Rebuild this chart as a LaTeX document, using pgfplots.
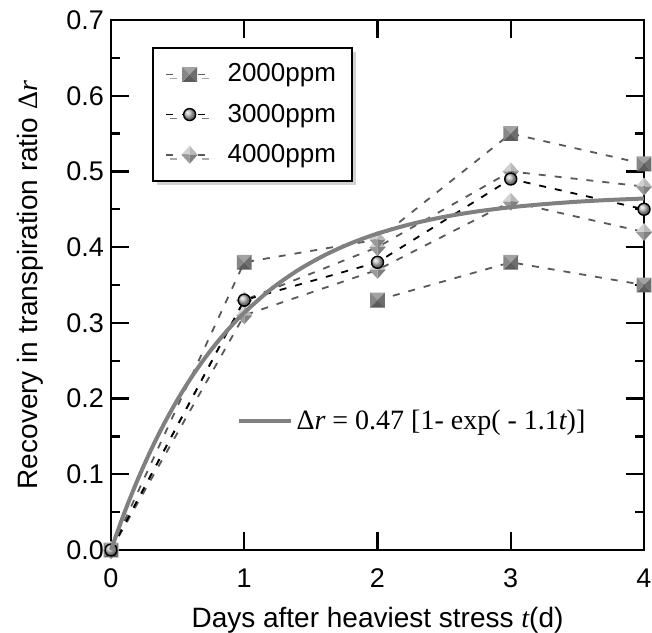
\documentclass[border=0pt]{standalone}
\usepackage{fontspec}
\setmainfont{Liberation Sans}
\newfontfamily\serifrm{Liberation Serif}
\usepackage{pgfplots}
\pgfplotsset{compat=1.18}
\usetikzlibrary{shadows}

\definecolor{sqT}{gray}{0.64}
\definecolor{sqL}{gray}{0.53}
\definecolor{sqR}{gray}{0.43}
\definecolor{sqB}{gray}{0.36}
\definecolor{dmTL}{gray}{0.82}
\definecolor{dmTR}{gray}{0.72}
\definecolor{dmBR}{gray}{0.50}
\definecolor{dmBL}{gray}{0.60}
\definecolor{dashgray}{gray}{0.35}
\definecolor{fitgray}{gray}{0.5}
\makeatletter
\colorlet{tikz@ball}{gray!55}
\makeatother

% one face of a pyramid-shaded mark
\newcommand\pyrtri[5]{%
  \pgfpathmoveto{\pgfqpoint{#1}{#2}}%
  \pgfpathlineto{\pgfqpoint{#3}{#4}}%
  \pgfpathlineto{\pgfpointorigin}\pgfpathclose
  \pgfsetfillcolor{#5}\pgfusepathqfill}

\pgfdeclareplotmark{pyrsq}{%
  \pyrtri{-\pgfplotmarksize}{\pgfplotmarksize}{\pgfplotmarksize}{\pgfplotmarksize}{sqT}%
  \pyrtri{\pgfplotmarksize}{\pgfplotmarksize}{\pgfplotmarksize}{-\pgfplotmarksize}{sqR}%
  \pyrtri{\pgfplotmarksize}{-\pgfplotmarksize}{-\pgfplotmarksize}{-\pgfplotmarksize}{sqB}%
  \pyrtri{-\pgfplotmarksize}{-\pgfplotmarksize}{-\pgfplotmarksize}{\pgfplotmarksize}{sqL}}

\pgfdeclareplotmark{pyrdm}{%
  \pyrtri{-0.9\pgfplotmarksize}{0pt}{0pt}{\pgfplotmarksize}{dmTL}%
  \pyrtri{0pt}{\pgfplotmarksize}{0.9\pgfplotmarksize}{0pt}{dmTR}%
  \pyrtri{0.9\pgfplotmarksize}{0pt}{0pt}{-\pgfplotmarksize}{dmBR}%
  \pyrtri{0pt}{-\pgfplotmarksize}{-0.9\pgfplotmarksize}{0pt}{dmBL}}

\pgfdeclareplotmark{sball}{%
  \pgfpathcircle{\pgfpointorigin}{\pgfplotmarksize}%
  \pgfshadepath{ball}{0}%
  \pgfpathcircle{\pgfpointorigin}{\pgfplotmarksize}%
  \pgfsetlinewidth{0.7pt}\pgfsetstrokecolor{black}%
  \pgfusepathqstroke}

\newcommand\tickfont{\fontsize{13.5}{16}\selectfont}
\newcommand\labelfont{\fontsize{14}{17}\selectfont}
\newcommand\legfont{\fontsize{13}{15}\selectfont}

\pgfplotsset{
  s2000/.style={draw=dashgray, line width=0.9pt, dash pattern=on 3.5pt off 4.5pt,
    mark=pyrsq, mark size=3.7pt, mark options={solid}},
  s3000/.style={draw=black, line width=0.9pt, dash pattern=on 3.5pt off 4.5pt,
    mark=sball, mark size=3pt, mark options={solid}},
  s4000/.style={draw=dashgray, line width=0.9pt, dash pattern=on 3.5pt off 4.5pt,
    mark=pyrdm, mark size=4.5pt, mark options={solid}},
}

\begin{document}
\begin{tikzpicture}
\begin{axis}[
    scale only axis,
    width=266.5pt, height=265pt,
    xmin=0, xmax=4, ymin=0, ymax=0.7,
    xtick={0,1,2,3,4},
    ytick={0,0.1,...,0.7},
    minor y tick num=1,
    axis line style={line width=1.2pt},
    tick style={line width=1.1pt, black},
    major tick length=9pt,
    minor tick length=4.5pt,
    tick align=inside,
    clip=false,
    yticklabel style={/pgf/number format/.cd, fixed, fixed zerofill, precision=1},
    /pgf/number format/assume math mode=true,
    tick label style={font=\tickfont},
    xticklabel style={yshift=-6pt},
    label style={font=\labelfont},
    xlabel={Days after heaviest stress {\serifrm\itshape t}(d)},
    ylabel={Recovery in transpiration ratio {\serifrm Δ\itshape r}},
    xlabel style={at={(axis description cs:0.5,-0.133)}, anchor=center},
    ylabel style={at={(axis description cs:-0.152,0.5)}, anchor=center},
    legend style={font=\legfont, at={(rel axis cs:0.077,0.949)}, anchor=north west,
      draw=black, line width=0.8pt, fill=white,
      drop shadow={shadow xshift=2pt, shadow yshift=-2pt, fill=gray!70},
      row sep=5.5pt, inner xsep=6pt, inner ysep=6pt},
    legend cell align=left,
    legend image code/.code={\draw[mark repeat=2, mark phase=2, #1]
      plot coordinates {(0cm,0cm) (0.42cm,0cm) (0.84cm,0cm)};
      \path (1.0cm,0cm);},
]
\addlegendimage{s2000}
\addlegendentry{2000ppm}
\addlegendimage{s3000}
\addlegendentry{3000ppm}
\addlegendimage{s4000}
\addlegendentry{4000ppm}

% 2000 ppm
\addplot[s2000, mark indices={1,2,4,5}, forget plot] coordinates {
  (0,0) (1,0.38) (2,0.41) (3,0.55) (4,0.51)};
\addplot[s2000, forget plot] coordinates {
  (2,0.33) (3,0.38) (4,0.35)};
% 4000 ppm
\addplot[s4000, forget plot] coordinates {
  (0,0) (1,0.33) (2,0.40) (3,0.50) (4,0.48)};
\addplot[s4000, forget plot] coordinates {
  (0,0) (1,0.31) (2,0.37) (3,0.46) (4,0.42)};
\addplot[s4000, forget plot, only marks] coordinates {(2,0.41)};
% 3000 ppm
\addplot[s3000, forget plot] coordinates {
  (0,0) (1,0.33) (2,0.38) (3,0.49) (4,0.45)};
\end{axis}

\begin{axis}[
    scale only axis,
    width=266.5pt, height=265pt,
    xmin=0, xmax=4, ymin=0, ymax=0.7,
    hide axis,
    clip=false,
    legend style={font=\fontsize{14}{17}\selectfont, at={(rel axis cs:0.225,0.243)}, anchor=west,
      draw=none, fill=none},
    legend image code/.code={\draw[#1] (0cm,0cm) -- (0.9cm,0cm);},
]
% fitted curve 0.47[1-exp(-1.1t)], tabulated
\addplot[fitgray, line width=2pt, smooth] coordinates {
  (0,0) (0.1,0.0490) (0.2,0.0928) (0.3,0.1321) (0.4,0.1673) (0.5,0.1988)
  (0.6,0.2271) (0.7,0.2524) (0.8,0.2750) (0.9,0.2953) (1.0,0.3135)
  (1.2,0.3444) (1.4,0.3692) (1.6,0.3891) (1.8,0.4051) (2.0,0.4179)
  (2.25,0.4304) (2.5,0.4400) (2.75,0.4472) (3.0,0.4527) (3.25,0.4568)
  (3.5,0.4600) (3.75,0.4624) (4.0,0.4642)};
\addlegendentry{{\serifrm Δ\itshape r\upshape\ = 0.47 [1- exp( - 1.1\itshape t\upshape)]}}
\end{axis}
\pgfresetboundingbox
\path[use as bounding box] (-55.5pt,-41pt) rectangle (270.5pt,275pt);
\end{tikzpicture}
\end{document}
